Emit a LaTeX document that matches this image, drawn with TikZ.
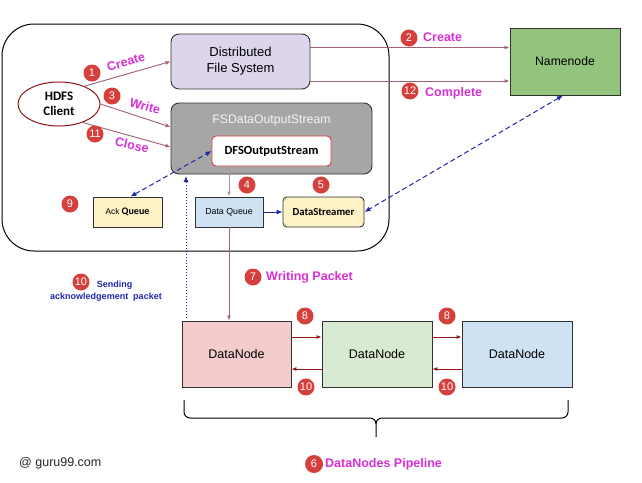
\documentclass[tikz,border=0pt]{standalone}
\usepackage{fontspec}
\setmainfont{Liberation Sans}
\newfontfamily\carl{Carlito}
\usetikzlibrary{arrows.meta,shapes.geometric}
\definecolor{numred}{RGB}{214,64,60}
\definecolor{magtxt}{RGB}{214,48,214}
\definecolor{mauve}{RGB}{160,96,122}
\definecolor{dblue}{RGB}{32,40,170}
\definecolor{lav}{RGB}{220,213,235}
\definecolor{gbox}{RGB}{166,166,166}
\definecolor{ylw}{RGB}{253,241,198}
\definecolor{lblue}{RGB}{207,226,243}
\definecolor{ngreen}{RGB}{147,196,125}
\definecolor{pinkf}{RGB}{244,204,204}
\definecolor{lgreen}{RGB}{217,234,211}
\definecolor{dred}{RGB}{150,20,20}
\definecolor{bord}{RGB}{50,50,50}
\tikzset{
  box/.style={draw=bord, line width=0.9pt, inner sep=0pt, align=center},
  num/.style={circle, fill=numred, text=white, inner sep=0pt, minimum size=17pt, font=\fontsize{11}{12}\selectfont},
  lbl/.style={text=magtxt, font=\bfseries\fontsize{12.5}{14}\selectfont, inner sep=0pt},
  marr/.style={draw=mauve, line width=0.9pt, -{Latex[length=5pt,width=4pt]}},
  darr/.style={draw=dred, line width=0.9pt, -{Latex[length=5pt,width=4pt]}},
  bdash/.style={draw=dblue, line width=1pt, dashed, dash pattern=on 5pt off 3pt, {Latex[length=6pt,width=5pt]}-{Latex[length=6pt,width=5pt]}},
}
\begin{document}
\begin{tikzpicture}[x=1pt,y=-1pt]
\useasboundingbox (0,0) rectangle (642,482);
\fill[white] (0,0) rectangle (642,482);
% outer frame
\draw[line width=1pt, black, rounded corners=32pt] (2,24) rectangle (389,251);

\node[box, fill=lav, rounded corners=8pt, minimum width=139pt, minimum height=55pt,
      font=\fontsize{13}{16}\selectfont] (dfs) at (240.5,61.5) {Distributed\\File System};
\node[box, fill=gbox, rounded corners=8pt, minimum width=201pt, minimum height=71pt] (fsd) at (271.5,138.5) {};
\node[text=white!92!gray, font=\fontsize{12.3}{14}\selectfont, inner sep=0pt] (fsdt) at (271.5,120) {FSDataOutputStream};
\node[box, draw=numred, fill=white, rounded corners=4pt, minimum width=119pt, minimum height=30pt,
      font=\carl\bfseries\fontsize{12.5}{14}\selectfont] (dfsout) at (271.5,151) {DFSOutputStream};
\node[ellipse, draw=dred, line width=1pt, fill=white, minimum width=82pt, minimum height=44pt, inner sep=0pt, align=center,
      font=\carl\bfseries\fontsize{13}{14.5}\selectfont] (client) at (59,104) {HDFS\\Client};
\node[box, fill=ylw, minimum width=69pt, minimum height=30pt, font=\fontsize{8.3}{10}\selectfont] (ack) at (127.5,212) {Ack \carl\bfseries\fontsize{10}{10}\selectfont Queue};
\node[box, fill=lblue, minimum width=68pt, minimum height=30pt, font=\fontsize{8.8}{10}\selectfont] (dq) at (229,212) {Data Queue};
\node[box, fill=ylw, rounded corners=4pt, minimum width=81pt, minimum height=30pt, font=\carl\bfseries\fontsize{10.7}{12}\selectfont] (ds) at (323.5,212) {DataStreamer};
\node[box, fill=ngreen, minimum width=110pt, minimum height=67pt, font=\fontsize{12.2}{14}\selectfont] (nn) at (565,61.5) {Namenode};
\node[box, fill=pinkf, minimum width=109pt, minimum height=66pt, font=\fontsize{12.5}{14}\selectfont] (dn1) at (236.5,354) {DataNode};
\node[box, fill=lgreen, minimum width=110pt, minimum height=66pt, font=\fontsize{12.5}{14}\selectfont] (dn2) at (377,354) {DataNode};
\node[box, fill=lblue, minimum width=110pt, minimum height=66pt, font=\fontsize{12.5}{14}\selectfont] (dn3) at (517,354) {DataNode};

% client arrows
\draw[marr] (client.35) -- (dfs.west);
\draw[marr] (client.east) -- ([yshift=11.5pt]fsd.west);
\draw[marr] (client.-38) -- ([yshift=-8.5pt]fsd.west);
% DFS to namenode
\draw[marr] ([yshift=14pt]dfs.east) -- ([yshift=14pt]nn.west);
\draw[marr] ([yshift=-19.5pt]dfs.east) -- ([yshift=-19.5pt]nn.west);
% internal
\draw[marr, draw=mauve!70] (dq.north |- dfsout.south) -- (dq.north);
\draw[draw=dblue, line width=1pt, -{Latex[length=6pt,width=5pt]}] (dq.east) -- (ds.west);
\draw[marr] (dq.south) -- (dq.south |- dn1.north);
% blue dashed
\draw[bdash] ([xshift=-2pt]nn.south) -- (ds.east);
\draw[bdash] ([xshift=3pt]ack.north) -- (dfsout.west);
\coordinate (acktip) at (186,176);
\coordinate (ackfoot) at (186,318);
\draw[draw=dblue, line width=1pt, dotted, -{Latex[length=6pt,width=5pt]}] (ackfoot) -- (acktip);
% datanode arrows
\draw[darr] ([yshift=17pt]dn1.east) -- ([yshift=17pt]dn2.west);
\draw[darr] ([yshift=-15pt]dn2.west) -- ([yshift=-15pt]dn1.east);
\draw[darr] ([yshift=17pt]dn2.east) -- ([yshift=17pt]dn3.west);
\draw[darr] ([yshift=-15pt]dn3.west) -- ([yshift=-15pt]dn2.east);

% brace
\draw[line width=1pt] (184,400) -- (184,412) to[out=-90,in=180] (190,418) -- (370,418) to[out=0,in=90] (376,424) -- (376,437);
\draw[line width=1pt] (568,400) -- (568,412) to[out=-90,in=0] (562,418) -- (382,418) to[out=180,in=90] (376,424);

% numbers and labels
\node[num] (n1) at (92,73) {1};
\node[lbl, rotate=16] (l1) at (126,62) {Create};
\node[num] (n3) at (112,96) {3};
\node[lbl, rotate=-16] (l3) at (145,106) {Write};
\node[num] (n11) at (95,134) {11};
\node[lbl, rotate=-13] (l11) at (132,145) {Close};
\node[num] (n9) at (70,204) {9};
\node[num] (n4) at (247,185) {4};
\node[num] (n5) at (321,185) {5};
\node[num] (n2) at (409,38) {2};
\node[lbl, anchor=west] (l2) at (423,37) {Create};
\node[num] (n12) at (410,91) {12};
\node[lbl, anchor=west] (l12) at (425,93) {Complete};
\node[num] (n10a) at (81,282) {10};
\node[text=dblue, font=\bfseries\fontsize{9}{12}\selectfont, align=center, inner sep=0pt] (l10) at (106,291) {\hspace*{17pt}Sending\\acknowledgement\ \ packet};
\node[num] (n7) at (253,277) {7};
\node[lbl, anchor=west] (l7) at (266,277) {Writing Packet};
\node[num] (n8a) at (305,316) {8};
\node[num] (n8b) at (447,316) {8};
\node[num] (n10b) at (306,387) {10};
\node[num] (n10c) at (447,387) {10};
\node[num, minimum size=18pt] (n6) at (314,464) {6};
\node[lbl, anchor=west] (l6) at (325,464) {DataNodes Pipeline};
\node[anchor=west, inner sep=0pt, text=black!85, font=\fontsize{12.5}{14}\selectfont] (copy) at (19,463) {@ guru99.com};
\end{tikzpicture}
\end{document}
